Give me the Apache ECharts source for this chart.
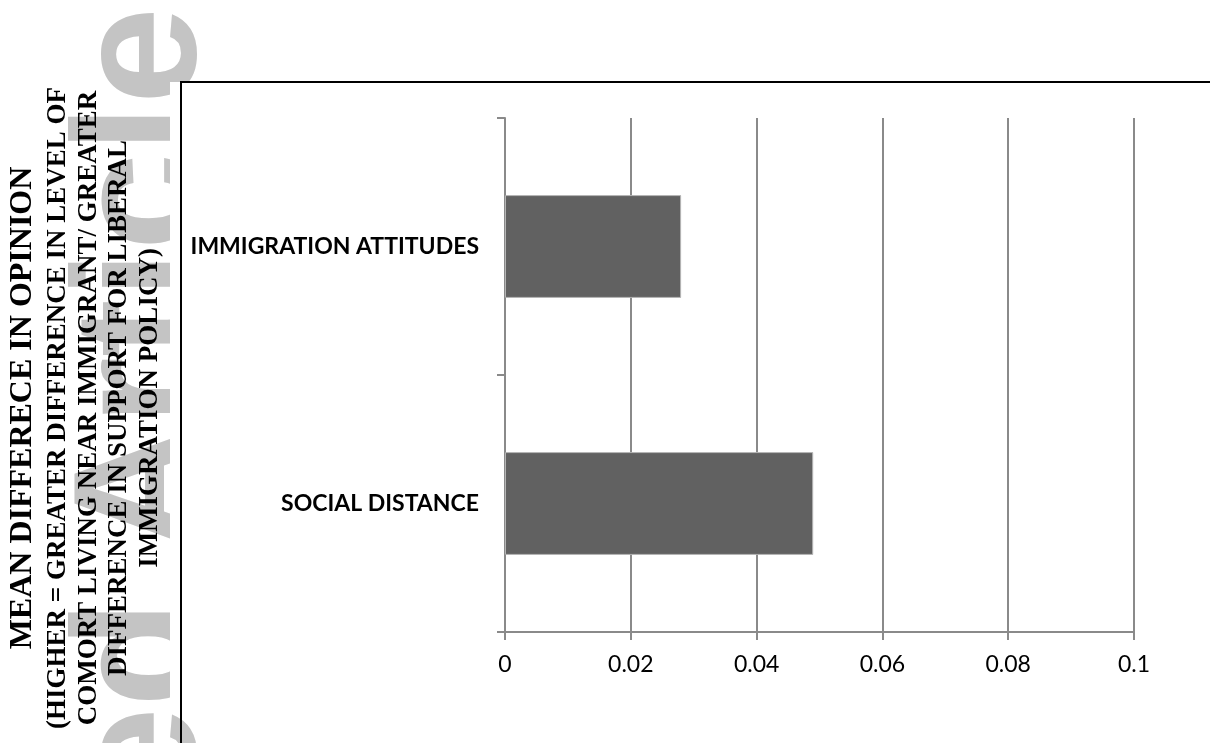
<!DOCTYPE html>
<html>
<head>
<meta charset="utf-8">
<style>
html,body{margin:0;padding:0;background:#fff;}
#chart{width:1210px;height:743px;}
</style>
<script src="https://cdn.jsdelivr.net/npm/echarts@6/dist/echarts.min.js"></script>
</head>
<body>
<div id="chart"></div>
<script>
// Data (bottom to top)
var categories = ['SOCIAL DISTANCE', 'IMMIGRATION ATTITUDES'];
var meanDifference = [0.049, 0.028];
var xTicks = { min: 0, max: 0.1, interval: 0.02 };
var titleLines = [
  'MEAN DIFFERECE IN OPINION',
  '(HIGHER = GREATER DIFFERENCE IN LEVEL OF',
  'COMORT LIVING NEAR IMMIGRANT/ GREATER',
  'DIFFERENCE IN SUPPORT FOR LIBERAL',
  'IMMIGRATION POLICY)'
];
var watermark = 'Accepted Article';

var chart = echarts.init(document.getElementById('chart'), null, {renderer: 'canvas'});

var titleX = [23, 58, 89, 119, 150];
var titleSize = [32, 27, 27, 27, 27];
var graphics = [
  {
    type: 'text', z: -20, x: 147, y: 7, rotation: Math.PI / 2,
    style: {
      text: watermark, fill: '#c4c4c4',
      font: 'bold 175px "Liberation Sans", Arial, sans-serif',
      textAlign: 'right', textVerticalAlign: 'middle'
    }
  },
  {
    type: 'rect', z: -10,
    shape: { x: 170, y: 82, width: 1050, height: 623 },
    style: { fill: '#ffffff' }
  },
  {
    type: 'line', z: 20,
    shape: { x1: 181, y1: 82, x2: 181, y2: 745 },
    style: { stroke: '#000', lineWidth: 2 }
  },
  {
    type: 'line', z: 20,
    shape: { x1: 180, y1: 82, x2: 1212, y2: 82 },
    style: { stroke: '#000', lineWidth: 2 }
  }
];
titleLines.forEach(function (t, i) {
  graphics.push({
    type: 'text', z: 20, x: titleX[i], y: 408, rotation: Math.PI / 2,
    style: {
      text: t, fill: '#000',
      font: 'bold ' + titleSize[i] + 'px "Liberation Serif", "Times New Roman", serif',
      textAlign: 'center', textVerticalAlign: 'middle'
    }
  });
});

var option = {
  backgroundColor: '#ffffff',
  animation: false,
  grid: { left: 505, right: 76, top: 118, bottom: 111, containLabel: false },
  xAxis: {
    type: 'value',
    min: xTicks.min, max: xTicks.max, interval: xTicks.interval,
    axisLine: { show: true, lineStyle: { color: '#8a8a8a', width: 2 } },
    axisTick: { show: true, length: 8, lineStyle: { color: '#8a8a8a', width: 2 } },
    splitLine: { show: true, lineStyle: { color: '#8a8a8a', width: 2 } },
    axisLabel: {
      color: '#000', fontSize: 23, margin: 21,
      fontFamily: 'Lato, "Open Sans", sans-serif',
      formatter: function (v) { return String(+v.toFixed(2)); }
    }
  },
  yAxis: {
    type: 'category',
    data: categories,
    axisLine: { show: true, lineStyle: { color: '#8a8a8a', width: 2 } },
    axisTick: { show: true, length: 8, lineStyle: { color: '#8a8a8a', width: 2 } },
    splitLine: { show: false },
    axisLabel: {
      color: '#000', fontSize: 23, fontWeight: 'bold', margin: 26,
      fontFamily: 'Lato, "Open Sans", sans-serif'
    }
  },
  series: [{
    type: 'bar',
    data: meanDifference,
    barCategoryGap: '60%',
    itemStyle: { color: '#616161', borderColor: '#b5b5b5', borderWidth: 1 }
  }],
  graphic: graphics
};
chart.setOption(option);
</script>
</body>
</html>
